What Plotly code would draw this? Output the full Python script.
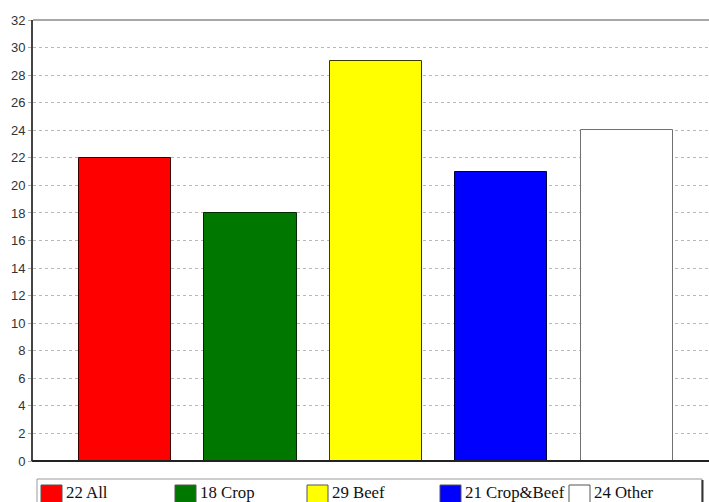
import plotly.graph_objects as go

# Survey groups and their counts
categories = ["All", "Crop", "Beef", "Crop&Beef", "Other"]
values = [22, 18, 29, 21, 24]
colors = ["#ff0000", "#007800", "#ffff00", "#0000ff", "#ffffff"]
outlines = ["#3a0000", "#002800", "#3a3a00", "#00003a", "#707070"]
y_ticks = list(range(0, 33, 2))

W, H = 709, 502
ML, MT, MB, MR = 33, 20, 41, 0
plot_w = W - ML - MR
plot_h = H - MT - MB

fig = go.Figure()
fig.add_trace(go.Bar(
    x=list(range(len(categories))),
    y=values,
    width=0.735,
    marker=dict(color=colors, line=dict(color=outlines, width=1)),
    showlegend=False,
    hoverinfo="skip",
))

fig.update_layout(
    width=W, height=H,
    margin=dict(l=ML, r=MR, t=MT, b=MB, pad=0),
    paper_bgcolor="white",
    plot_bgcolor="white",
    bargap=0,
    xaxis=dict(
        range=[-0.734, 4.657],
        showticklabels=False,
        showgrid=False,
        zeroline=False,
        showline=False,
        ticks="",
    ),
    yaxis=dict(
        range=[0, 32],
        tickvals=y_ticks,
        ticktext=[str(v) for v in y_ticks],
        tickfont=dict(family="Arial, Liberation Sans", size=13, color="#333333"),
        ticks="outside",
        ticklen=3,
        tickcolor="#aaaaaa",
        showgrid=True,
        gridcolor="#b8b8b8",
        griddash="dot",
        gridwidth=1,
        zeroline=False,
        showline=True,
        linecolor="#444444",
        linewidth=2,
    ),
)

# Plot frame: gray top edge, dark baseline
fig.add_shape(type="line", xref="paper", yref="paper", x0=0, x1=1, y0=1, y1=1,
              line=dict(color="#a8a8a8", width=2), layer="above")
fig.add_shape(type="line", xref="paper", yref="paper", x0=-0.002, x1=1, y0=0, y1=0,
              line=dict(color="#222222", width=2), layer="above")


def px_x(p):
    return (p - ML) / plot_w


def px_y(p):
    return (H - MB - p) / plot_h


# Legend panel below the plot
fig.add_shape(type="rect", xref="paper", yref="paper",
              x0=px_x(37), x1=px_x(702), y0=px_y(479), y1=px_y(506),
              line=dict(color="#9a9a9a", width=1), fillcolor="white")
fig.add_shape(type="line", xref="paper", yref="paper",
              x0=px_x(702.5), x1=px_x(702.5), y0=px_y(480), y1=px_y(506),
              line=dict(color="#333333", width=2))

legend_x = [41, 175, 307, 440, 569]
for cat, val, col, lx in zip(categories, values, colors, legend_x):
    fig.add_shape(type="rect", xref="paper", yref="paper",
                  x0=px_x(lx), x1=px_x(lx + 21), y0=px_y(485), y1=px_y(503),
                  line=dict(color="#555555", width=1), fillcolor=col)
    fig.add_annotation(xref="paper", yref="paper", x=px_x(lx + 23), y=px_y(492),
                       text=f"{val} {cat}", showarrow=False,
                       xanchor="left", yanchor="middle",
                       font=dict(family="Liberation Serif, Times New Roman", size=16.8, color="#111111"))

fig.write_html("out.html")
